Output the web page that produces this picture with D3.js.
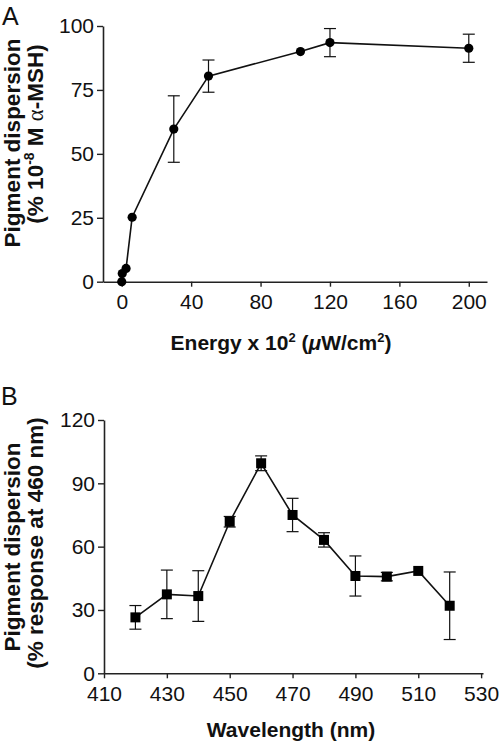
<!DOCTYPE html>
<html><head><meta charset="utf-8">
<script src="https://cdn.jsdelivr.net/npm/d3@7"></script>
<style>
body{margin:0;background:#fff;}
svg{display:block;}
text{font-family:"Liberation Sans",Arial,Helvetica,sans-serif;fill:#111;}
</style></head>
<body>
<svg id="c" width="500" height="748"></svg>
<script>
// Panel A data
const energyX = [0, 0.3, 2.5, 6, 30, 50, 103, 120, 200];
const dispersionA = [0, 3.2, 5.2, 25.2, 59.7, 80.4, 90, 93.5, 91.3];
const errorA = [0, 0, 0, 0, 13, 6.3, 0, 5.5, 5.5];
const ticksAx = [0, 40, 80, 120, 160, 200];
const ticksAy = [0, 25, 50, 75, 100];
// Panel B data
const wavelength = [420, 430, 440, 450, 460, 470, 480, 490, 500, 510, 520];
const dispersionB = [26.5, 37.4, 36.6, 71.8, 99.5, 75, 63.2, 46.1, 45.8, 48.5, 32];
const errorB = [5.6, 11.5, 12, 2.5, 3.5, 7.9, 3.4, 9.5, 2, 0, 16];
const ticksBx = [410, 430, 450, 470, 490, 510, 530];
const ticksBy = [0, 30, 60, 90, 120];

const svg = d3.select("#c");

function panel(cfg){
  const g = svg.append("g");
  const x = d3.scaleLinear().domain(cfg.xDomain).range(cfg.xRange);
  const y = d3.scaleLinear().domain(cfg.yDomain).range(cfg.yRange);
  const xa = g.append("g").attr("transform",`translate(0,${cfg.yRange[0]})`)
    .call(d3.axisBottom(x).tickValues(cfg.xTicks).tickSize(5).tickPadding(7.5).tickSizeOuter(0));
  const ya = g.append("g").attr("transform",`translate(${cfg.xRange[0]},0)`)
    .call(d3.axisLeft(y).tickValues(cfg.yTicks).tickSize(6).tickPadding(3).tickSizeOuter(0));
  [xa,ya].forEach(a=>{
    a.selectAll("path").attr("stroke","#222").attr("stroke-width",1.6);
    a.selectAll("line").attr("stroke","#222").attr("stroke-width",1.4);
    a.selectAll("text").attr("font-size",21).attr("font-family","Liberation Sans, Arial, sans-serif").attr("fill","#111");
  });
  const pts = cfg.xs.map((v,i)=>({x:v,y:cfg.ys[i],e:cfg.es[i]}));
  // error bars
  const eb = g.append("g").attr("stroke","#111").attr("stroke-width",1.2);
  pts.filter(d=>d.e>0).forEach(d=>{
    const cx = x(d.x);
    eb.append("line").attr("x1",cx).attr("x2",cx).attr("y1",y(d.y+d.e)).attr("y2",y(d.y-d.e));
    eb.append("line").attr("x1",cx-6).attr("x2",cx+6).attr("y1",y(d.y+d.e)).attr("y2",y(d.y+d.e));
    eb.append("line").attr("x1",cx-6).attr("x2",cx+6).attr("y1",y(d.y-d.e)).attr("y2",y(d.y-d.e));
  });
  g.append("path").datum(pts)
    .attr("d", d3.line().x(d=>x(d.x)).y(d=>y(d.y)))
    .attr("fill","none").attr("stroke","#111").attr("stroke-width",1.6);
  if(cfg.marker==="circle"){
    g.selectAll("circle.m").data(pts).join("circle")
      .attr("cx",d=>x(d.x)).attr("cy",d=>y(d.y)).attr("r",4.6).attr("fill","#000");
  } else {
    g.selectAll("rect.m").data(pts).join("rect")
      .attr("x",d=>x(d.x)-5).attr("y",d=>y(d.y)-5).attr("width",10).attr("height",10).attr("fill","#000");
  }
  return {x,y,g};
}

const A = panel({xDomain:[-10.8,210.5], xRange:[103,487], yDomain:[0,100], yRange:[281.7,26],
  xTicks:ticksAx, yTicks:ticksAy, xs:energyX, ys:dispersionA, es:errorA, marker:"circle"});
const B = panel({xDomain:[410,530.6], xRange:[104,483], yDomain:[0,120], yRange:[673.3,420],
  xTicks:ticksBx, yTicks:ticksBy, xs:wavelength, ys:dispersionB, es:errorB, marker:"square"});

// Panel letters
svg.append("text").attr("x",2).attr("y",25).attr("font-size",25).text("A");
svg.append("text").attr("x",1).attr("y",405).attr("font-size",25).text("B");

// X titles
const tA = svg.append("text").attr("x",281).attr("y",350).attr("text-anchor","middle")
  .attr("font-size",21).attr("font-weight","bold");
tA.append("tspan").text("Energy x 10");
tA.append("tspan").attr("font-size",13).attr("dy",-8).text("2");
tA.append("tspan").attr("dy",8).text(" (");
tA.append("tspan").attr("font-style","italic").text("\u03bc");
tA.append("tspan").text("W/cm");
tA.append("tspan").attr("font-size",13).attr("dy",-8).text("2");
tA.append("tspan").attr("dy",8).text(")");

svg.append("text").attr("x",291).attr("y",737).attr("text-anchor","middle")
  .attr("font-size",21).attr("font-weight","bold").text("Wavelength (nm)");

// Y titles
function ytitle(cx, cy, build){
  const t = svg.append("text").attr("transform",`translate(${cx},${cy}) rotate(-90)`)
    .attr("text-anchor","middle").attr("font-size",22.5).attr("font-weight","bold");
  build(t);
}
ytitle(20,143,t=>t.text("Pigment dispersion"));
ytitle(43,134,t=>{
  t.append("tspan").text("(% 10");
  t.append("tspan").attr("font-size",14).attr("dy",-9).text("-8");
  t.append("tspan").attr("dy",9).text(" M ");
  t.append("tspan").attr("font-family","Liberation Serif, Times New Roman, serif").attr("font-weight","normal").text("\u03b1");
  t.append("tspan").text("-MSH)");
});
ytitle(20,547,t=>t.text("Pigment dispersion"));
ytitle(43,543,t=>t.text("(% response at 460 nm)"));
</script>
</body></html>
